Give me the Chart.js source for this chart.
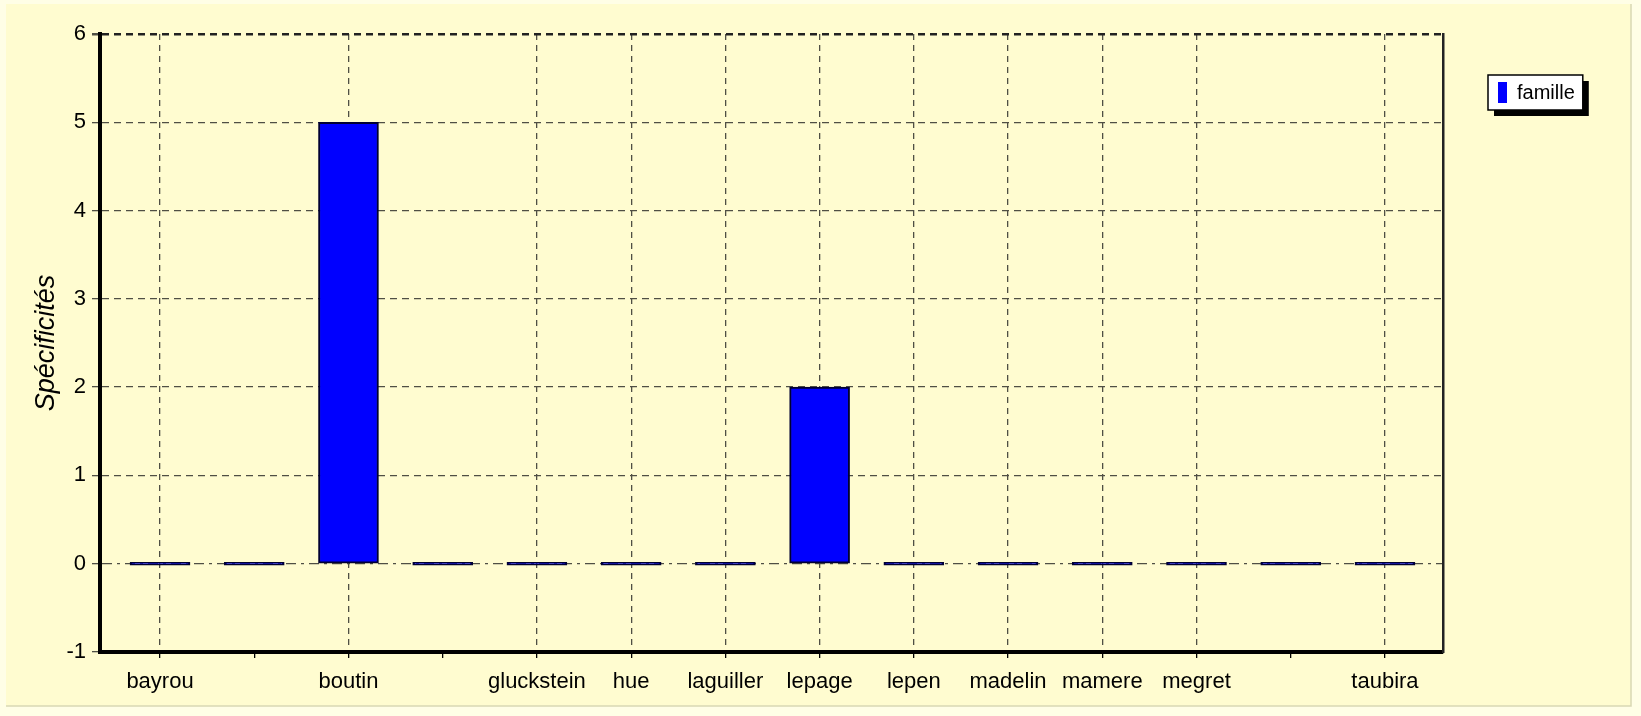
<!DOCTYPE html>
<html>
<head>
<meta charset="utf-8">
<script src="https://cdn.jsdelivr.net/npm/chart.js"></script>
<style>
  html, body { margin: 0; padding: 0; background: #fffee6; }
  #wrap { width: 1641px; height: 716px; }
</style>
</head>
<body>
<div id="wrap"><canvas id="specChart"></canvas></div>
<script>
// categories as labelled on the axis (blank slots have no label in the original)
const candidates = ['bayrou', '', 'boutin', '', 'gluckstein', 'hue', 'laguiller', 'lepage', 'lepen', 'madelin', 'mamere', 'megret', '', 'taubira'];
const familleValues = [0, 0, 5, 0, 0, 0, 0, 2, 0, 0, 0, 0, 0, 0];
const yTicks = [-1, 0, 1, 2, 3, 4, 5, 6];
const seriesLabel = 'famille';
const yTitle = 'Spécificités';

const bgPlugin = {
    id: 'bgPlugin',
    beforeDraw(chart) {
        const { ctx, width, height } = chart;
        ctx.save();
        ctx.fillStyle = '#fffee6';
        ctx.fillRect(0, 0, width, height);
        ctx.fillStyle = '#fffcd0';
        ctx.fillRect(6, 4, width - 16, height - 14);
        ctx.strokeStyle = '#d9d7b4';
        ctx.lineWidth = 1.5;
        ctx.beginPath();
        ctx.moveTo(width - 10, 4);
        ctx.lineTo(width - 10, height - 10);
        ctx.lineTo(6, height - 10);
        ctx.stroke();
        ctx.restore();
    }
};

const legendBox = {
    id: 'legendBox',
    afterDraw(chart) {
        const { ctx, chartArea } = chart;
        const ds = chart.data.datasets[0];
        ctx.save();
        ctx.font = '20px Arial, "Liberation Sans"';
        const x = chartArea.right + 45;
        const y = chartArea.top + 41;
        const w = ctx.measureText(ds.label).width + 37;
        const h = 35;
        ctx.fillStyle = '#000';
        ctx.fillRect(x + 6, y + 6, w, h);
        ctx.fillStyle = '#fff';
        ctx.fillRect(x, y, w, h);
        ctx.strokeStyle = '#000';
        ctx.lineWidth = 1.5;
        ctx.strokeRect(x, y, w, h);
        ctx.fillStyle = ds.backgroundColor;
        ctx.fillRect(x + 10, y + 7, 9, 21);
        ctx.fillStyle = '#000';
        ctx.textBaseline = 'middle';
        ctx.fillText(ds.label, x + 29, y + h / 2 + 1);
        ctx.restore();
    }
};

const ctx = document.getElementById('specChart').getContext('2d');
new Chart(ctx, {
    type: 'bar',
    data: {
        datasets: [{
            label: seriesLabel,
            data: familleValues.map((v, i) => ({ x: i, y: v })),
            backgroundColor: '#0000ff',
            borderColor: '#000033',
            borderWidth: 2,
            borderSkipped: false,
            barThickness: 60,
            minBarLength: 3
        }]
    },
    options: {
        responsive: true,
        maintainAspectRatio: false,
        animation: false,
        layout: {
            padding: { left: 0, top: 34, right: 1641 - 1443, bottom: 0 }
        },
        plugins: {
            legend: { display: false },
            tooltip: { enabled: false }
        },
        scales: {
            x: {
                type: 'linear',
                offset: false,
                min: -0.637,
                max: 13.616,
                afterBuildTicks: axis => { axis.ticks = candidates.map((c, i) => ({ value: i })); },
                afterFit: axis => { axis.height = 64; },
                ticks: {
                    autoSkip: false,
                    maxRotation: 0,
                    padding: 11,
                    color: '#000',
                    font: { family: 'Arial, "Liberation Sans"', size: 22 },
                    callback: value => candidates[value] || ''
                },
                grid: {
                    offset: false,
                    color: c => (c.tick && candidates[c.tick.value]) ? '#4f4f44' : 'rgba(0,0,0,0)',
                    lineWidth: 1.3,
                    tickLength: 6,
                    tickColor: '#000'
                },
                border: { display: true, color: '#000', width: 4, dash: [6, 5] }
            },
            y: {
                min: -1,
                max: 6,
                afterBuildTicks: axis => { axis.ticks = yTicks.map(v => ({ value: v })); },
                afterFit: axis => { axis.width = 100; },
                title: {
                    display: true,
                    text: yTitle,
                    color: '#000',
                    font: { family: 'Arial, "Liberation Sans"', size: 27, style: 'italic' },
                    padding: { top: 30, bottom: 0 }
                },
                ticks: {
                    padding: 6,
                    color: '#000',
                    font: { family: 'Arial, "Liberation Sans"', size: 22 }
                },
                grid: {
                    color: c => (c.tick && c.tick.value === 6) ? '#222' : '#4f4f44',
                    lineWidth: c => (c.tick && c.tick.value === 6) ? 2.5 : 1.3,
                    tickLength: 8,
                    tickColor: '#4f4f44'
                },
                border: {
                    display: true,
                    color: '#000',
                    width: 4,
                    dash: c => (c.tick && c.tick.value === 0) ? [10, 5, 3, 5] : [7, 5]
                }
            },
            y2: {
                position: 'right',
                min: -1,
                max: 6,
                afterFit: axis => { axis.width = 0; },
                ticks: { display: false },
                grid: { display: false },
                border: { display: true, color: '#222', width: 2.5 }
            }
        }
    },
    plugins: [bgPlugin, legendBox]
});
</script>
</body>
</html>
